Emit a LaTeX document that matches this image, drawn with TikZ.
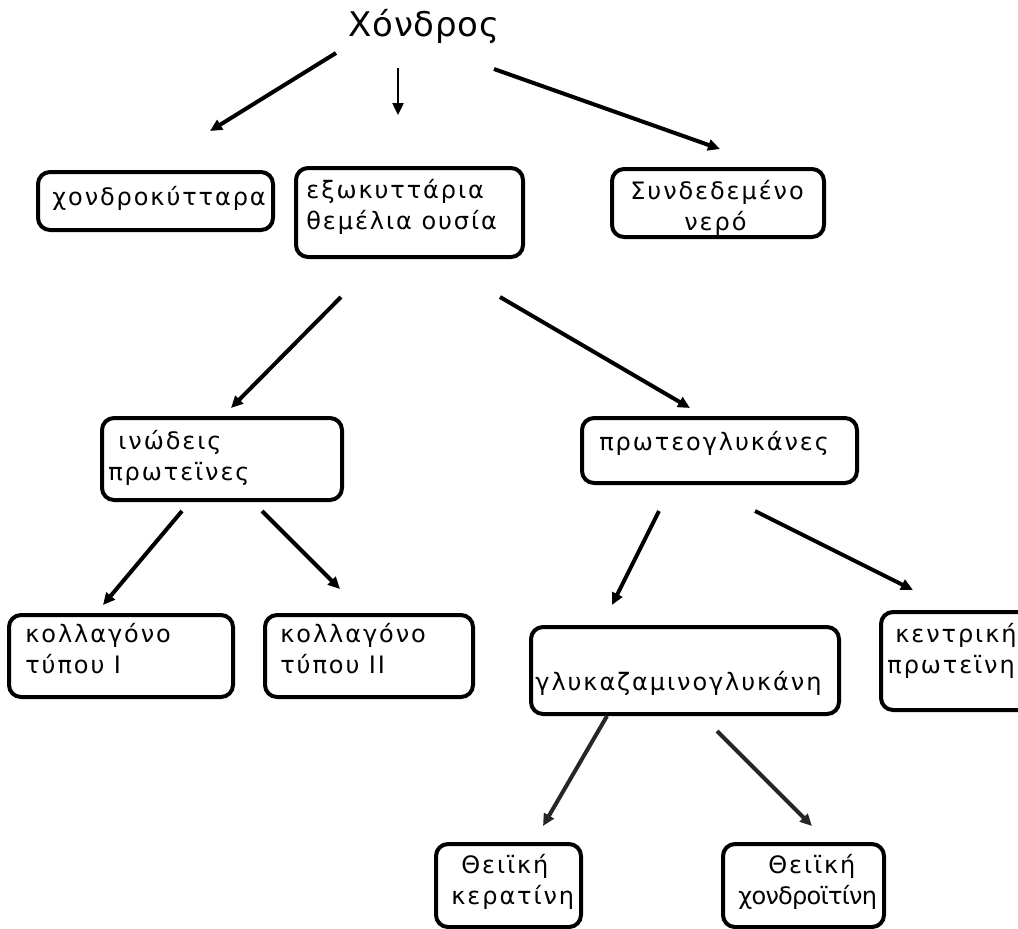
\documentclass[tikz,border=0pt]{standalone}
\usepackage{fontspec}
\setmainfont{DejaVu Sans}[LetterSpace=8]
\newfontfamily\titlefont{DejaVu Sans}[LetterSpace=2]
\usetikzlibrary{arrows.meta}

\tikzset{
  box/.style={draw, line width=2pt, rounded corners=6pt, inner sep=0pt},
  lbl/.style={anchor=west, inner sep=0pt, align=left,
    font=\fontsize{12}{15.5}\selectfont},
  arr/.style={-{Triangle[length=6pt, width=5.5pt]}, line width=2pt},
}

\begin{document}
\begin{tikzpicture}[x=0.5pt, y=-0.5pt]
  \useasboundingbox (0,0) rectangle (1018,928);
  \clip (0,0) rectangle (1018,928);

  %% Title
  \node[anchor=base, inner sep=0pt, font=\titlefont\fontsize{17}{20}\selectfont]
    (chondros) at (424,36) {Χόνδρος};

  %% First row
  \node[box, minimum width=117.5pt, minimum height=29pt] (cells) at (155.5,201) {};
  \node[lbl] (cells-t) at (52,198) {χονδροκύτταρα};

  \node[box, minimum width=113.5pt, minimum height=44.5pt] (matrix) at (409.5,212.5) {};
  \node[lbl] (matrix-t) at (306,207) {εξωκυττάρια\\θεμέλια ουσία};

  \node[box, minimum width=106pt, minimum height=34pt] (water) at (718,203) {};
  \node[lbl] (water-t) at (630,208) {Συνδεδεμένο\\\hspace*{27pt}νερό};

  %% Second row
  \node[box, minimum width=120pt, minimum height=41pt] (fibres) at (222,459) {};
  \node[lbl] (fibres-t) at (108,457.5) {\hspace*{5pt}ινώδεις\\πρωτεϊνες};

  \node[box, minimum width=137.5pt, minimum height=32.5pt] (pgly) at (719.5,450.5) {};
  \node[lbl] (pgly-t) at (599,443) {πρωτεογλυκάνες};

  %% Third row
  \node[box, minimum width=112pt, minimum height=41pt] (col1) at (121,656) {};
  \node[lbl] (col1-t) at (25,648.5) {κολλαγόνο\\τύπου Ι};

  \node[box, minimum width=104pt, minimum height=41pt] (col2) at (369,656) {};
  \node[lbl] (col2-t) at (280,648.5) {κολλαγόνο\\τύπου ΙΙ};

  \node[box, minimum width=154pt, minimum height=43.5pt] (gag) at (685,670.5) {};
  \node[lbl] (gag-t) at (535,683) {γλυκαζαμινογλυκάνη};

  \node[box, minimum width=79.5pt, minimum height=49pt] (core) at (960.5,661) {};
  \node[lbl] (core-t) at (887,651) {\hspace*{4pt}κεντρική\\πρωτεϊνη};

  %% Bottom row
  \node[box, minimum width=72.5pt, minimum height=41.5pt] (kerat) at (508.5,885.5) {};
  \node[lbl] (kerat-t) at (451,882) {\hspace*{5pt}Θειϊκή\\κερατίνη};

  \node[box, minimum width=80.5pt, minimum height=41.5pt] (chond) at (803.5,885.5) {};
  \node[lbl] (chond-t) at (738,882)
    {\hspace*{15pt}Θειϊκή\\{\addfontfeatures{LetterSpace=-3}χονδροϊτίνη}};

  %% Arrow ends (they stop short of the boxes)
  \coordinate (s1) at (336,53);   \coordinate (e1) at (210,131);
  \coordinate (s2) at (398,68);   \coordinate (e2) at (398,115);
  \coordinate (s3) at (494,69);   \coordinate (e3) at (720,149);
  \coordinate (s4) at (341,297);  \coordinate (e4) at (231,408);
  \coordinate (s5) at (500,297);  \coordinate (e5) at (690,408);
  \coordinate (s6) at (182,511);  \coordinate (e6) at (103,605);
  \coordinate (s7) at (262,511);  \coordinate (e7) at (340,589);
  \coordinate (s8) at (659,511);  \coordinate (e8) at (612,605);
  \coordinate (s9) at (755,511);  \coordinate (e9) at (913,590);
  \coordinate (s10) at (607,716); \coordinate (e10) at (543,826);
  \coordinate (s11) at (717,731); \coordinate (e11) at (812,826);

  \foreach \i in {1,3,4,5,6,7,8,9}
    \draw[arr] (s\i) -- (e\i);
  \draw[arr, line width=1.2pt] (s2) -- (e2);
  \foreach \i in {10,11}
    \draw[arr, black!85] (s\i) -- (e\i);
\end{tikzpicture}
\end{document}
